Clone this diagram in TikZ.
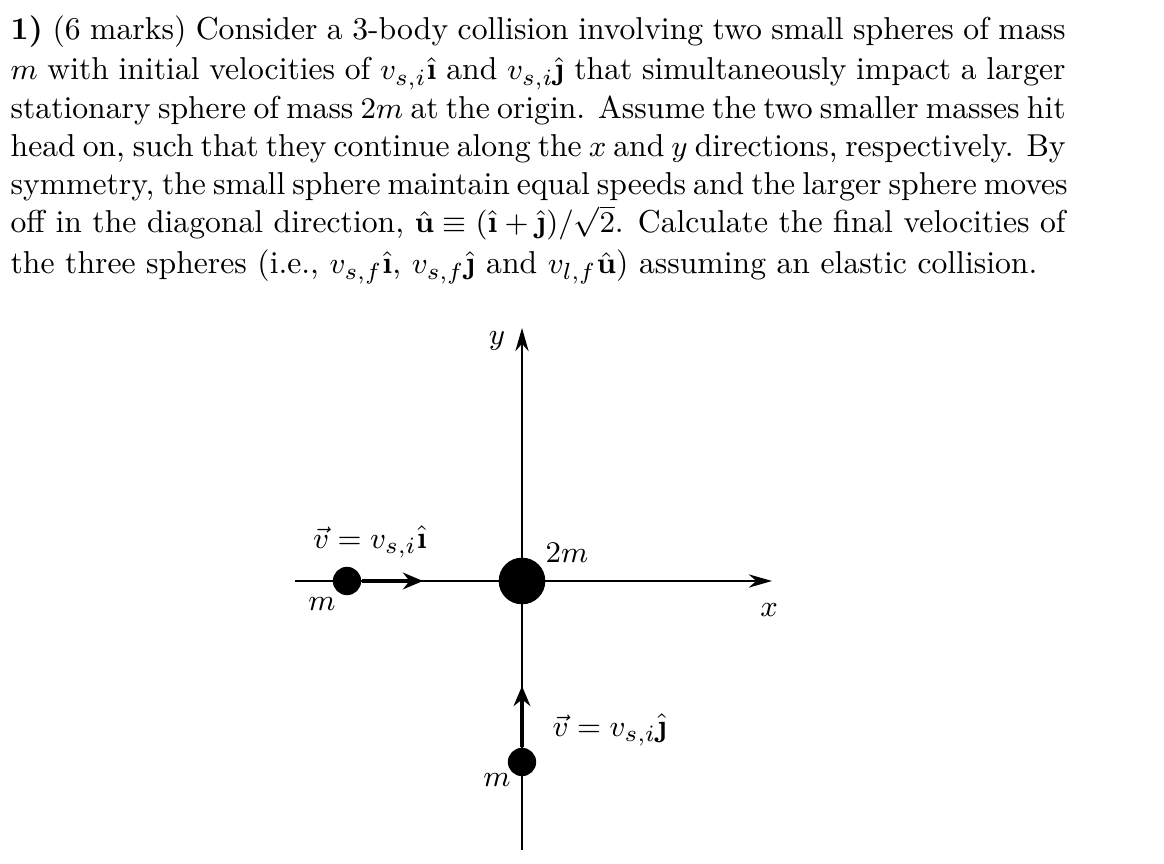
\documentclass[tikz,border=0pt]{standalone}
\usepackage{amsmath,amssymb}
\usetikzlibrary{arrows.meta}
\newcommand{\bi}{\hat{\text{\textbf{\i}}}}
\newcommand{\bj}{\hat{\text{\textbf{\j}}}}
\begin{document}
\begin{tikzpicture}[x=0.3pt,y=-0.3pt,
  lbl/.style={inner sep=0pt,font=\fontsize{9.5}{11.4}\selectfont},
  ln/.style={inner sep=0pt,anchor=base west,font=\fontsize{9.5}{11.4}\selectfont},
  ball/.style={fill=black,circle,inner sep=0pt},
  vec/.style={line width=1.3pt,-{Stealth[length=6pt,width=5pt]}}]
\useasboundingbox (0,0) rectangle (1164,864);
\node[ln] (t1) at (10,40) {\makebox[316.5pt][s]{\textbf{1)} (6 marks) Consider a 3-body collision involving two small spheres of mass}};
\node[ln] (t2) at (10,80) {\makebox[316.5pt][s]{$m$ with initial velocities of $v_{s,i}\bi$ and $v_{s,i}\bj$ that simultaneously impact a larger}};
\node[ln] (t3) at (10,119) {\makebox[316.5pt][s]{stationary sphere of mass $2m$ at the origin. Assume the two smaller masses hit}};
\node[ln] (t4) at (10,157) {\makebox[316.5pt][s]{head on, such that they continue along the $x$ and $y$ directions, respectively. By}};
\node[ln] (t5) at (10,195) {\makebox[316.5pt][s]{symmetry, the small sphere maintain equal speeds and the larger sphere moves}};
\node[ln] (t6) at (10,233) {\makebox[316.5pt][s]{off in the diagonal direction, $\hat{\mathbf{u}}\equiv(\bi+\bj)/\sqrt{2}$. Calculate the final velocities of}};
\node[ln] (t7) at (10,274) {the three spheres (i.e., $v_{s,f}\bi$, $v_{s,f}\bj$ and $v_{l,f}\hat{\mathbf{u}}$) assuming an elastic collision.};
\coordinate (xs) at (295,581); \coordinate (xe) at (772,581);
\coordinate (ys) at (522,850); \coordinate (ye) at (522,328);
\draw[-{Stealth[length=7pt,width=4pt]},line width=0.4pt] (xs) -- (xe);
\draw[-{Stealth[length=7pt,width=4pt]},line width=0.4pt] (ys) -- (ye);
\node[ball,minimum size=14pt] (big) at (522,581) {};
\node[ball,minimum size=8.5pt] (s1) at (347,581) {};
\node[ball,minimum size=8.5pt] (s2) at (522,762) {};
\coordinate (a1) at (423,581); \coordinate (a2) at (522,686);
\draw[vec] (s1.east) -- (a1);
\draw[vec] (s2.north) -- (a2);
\node[lbl] (l1) at (370,542) {$\vec v = v_{s,i}\bi$};
\node[lbl] (l2) at (610,730) {$\vec v = v_{s,i}\bj$};
\node[lbl] (m1) at (322,604) {$m$};
\node[lbl] (m2) at (497,780) {$m$};
\node[lbl] (m3) at (567,553) {$2m$};
\node[lbl] (xl) at (769,610) {$x$};
\node[lbl] (yl) at (497,341) {$y$};
\end{tikzpicture}
\end{document}
